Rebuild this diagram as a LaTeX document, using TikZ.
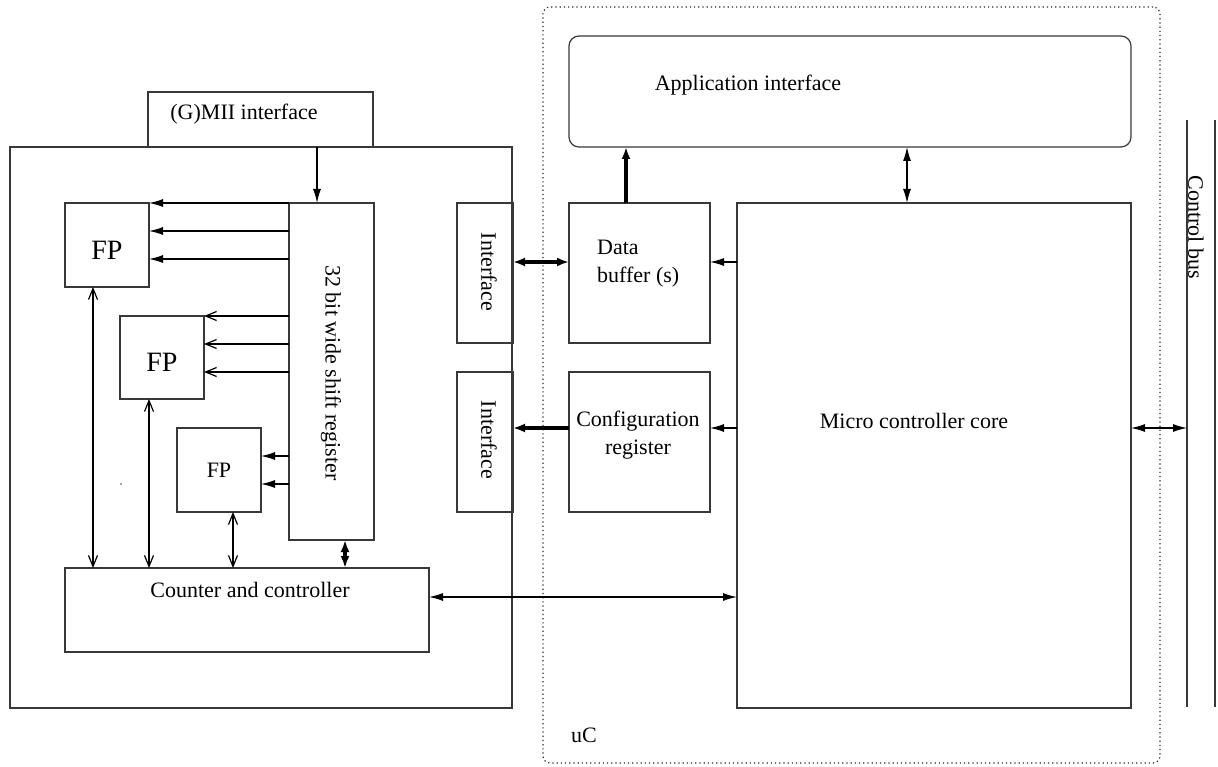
\documentclass[tikz,border=0pt]{standalone}
\usepackage{fontspec}
\setmainfont{Liberation Serif}
\usetikzlibrary{arrows.meta}
\newcommand\mytxt{\fontsize{22}{28}\selectfont}
\newcommand\bigtxt{\fontsize{28}{32}\selectfont}
\tikzset{
  box/.style={draw=black!78, line width=1.2pt, outer sep=0pt, inner sep=0pt, anchor=north west},
  lbl/.style={font=\mytxt, inner sep=0pt},
  conn/.style={draw=black, line width=1.2pt},
  thk/.style={draw=black, line width=3.2pt},
  fh/.style={-{Latex[length=14pt,width=8pt]}},
  fhh/.style={{Latex[length=14pt,width=8pt]}-{Latex[length=14pt,width=8pt]}},
  oh/.style={-{Straight Barb[length=11pt,width=9pt]}},
  ohh/.style={{Straight Barb[length=11pt,width=9pt]}-{Straight Barb[length=11pt,width=9pt]}},
  thh/.style={{Latex[length=12pt,width=9pt]}-{Latex[length=12pt,width=9pt]}},
  th/.style={-{Latex[length=12pt,width=9pt]}},
}
\begin{document}
\begin{tikzpicture}[x=1pt,y=-1pt]
\useasboundingbox (0,0) rectangle (1218,767);
% uC dotted frame
\node[box, draw=black!85, line width=1.2pt, dash pattern=on 1.2pt off 3pt, rounded corners=7pt, minimum width=617pt, minimum height=756pt] (uc) at (543,7) {};
\node[lbl, anchor=west] (uclbl) at (571,735) {uC};
% left block
\node[box, minimum width=225pt, minimum height=55pt] (gmii) at (148,92) {};
\node[lbl] (gmiit) at (244,114) {(G)MII interface};
\node[box, minimum width=502pt, minimum height=561pt] (main) at (10,147) {};
\node[box, minimum width=85pt, minimum height=337pt] (sr) at (289,203) {};
\node[lbl, rotate=-90] (srt) at (331,373) {32 bit wide shift register};
\node[box, minimum width=84pt, minimum height=84pt] (fp1) at (65,203) {};
\node[font=\bigtxt, inner sep=0pt] (fp1t) at (107,250) {FP};
\node[box, minimum width=84pt, minimum height=83pt] (fp2) at (120,316) {};
\node[font=\bigtxt, inner sep=0pt] (fp2t) at (162,362) {FP};
\node[box, minimum width=84pt, minimum height=84pt] (fp3) at (177,428) {};
\node[lbl] (fp3t) at (219,470) {FP};
\node[box, minimum width=364pt, minimum height=84pt] (cnt) at (65,568) {};
\node[lbl] (cntt) at (250,590) {Counter and controller};
\fill[black!70] (121,484) circle (0.9pt);
% interfaces
\node[box, minimum width=56pt, minimum height=140pt] (if1) at (457,203) {};
\node[lbl, rotate=-90] (if1t) at (489,272) {Interface};
\node[box, minimum width=56pt, minimum height=140pt] (if2) at (457,372) {};
\node[lbl, rotate=-90] (if2t) at (489,440) {Interface};
% uC contents
\node[box, rounded corners=10pt, minimum width=562pt, minimum height=111pt] (app) at (569,36) {};
\node[lbl] (appt) at (748,85) {Application interface};
\node[box, minimum width=141pt, minimum height=140pt] (db) at (569,203) {};
\node[lbl, anchor=west, align=left] (dbt) at (597,264) {Data\\buffer (s)};
\node[box, minimum width=141pt, minimum height=140pt] (cfg) at (569,372) {};
\node[lbl, align=center] (cfgt) at (638,435) {Configuration\\register};
\node[box, minimum width=394pt, minimum height=505pt] (core) at (737,203) {};
\node[lbl] (coret) at (914,421) {Micro controller core};
% control bus
\coordinate (b1t) at (1187,120); \coordinate (b1b) at (1187,707);
\coordinate (b2t) at (1215,120); \coordinate (b2b) at (1215,707);
\draw[draw=black!78, line width=1.2pt] (b1t) -- (b1b);
\draw[draw=black!78, line width=1.2pt] (b2t) -- (b2b);
\node[lbl, rotate=-90] (bust) at (1196,227) {Control bus};
% connectors left
\draw[conn, fh] (gmii.south -| 317,0) -- (sr.north -| 317,0);
\foreach \yy in {203,231,259} \draw[conn, fh] (sr.west |- 0,\yy) -- (fp1.east |- 0,\yy);
\foreach \yy in {316,344,372} \draw[conn, oh] (sr.west |- 0,\yy) -- (fp2.east |- 0,\yy);
\foreach \yy in {456,484} \draw[conn, fh] (sr.west |- 0,\yy) -- (fp3.east |- 0,\yy);
\draw[conn, ohh] (fp1.south -| 93,0) -- (cnt.north -| 93,0);
\draw[conn, ohh] (fp2.south -| 149,0) -- (cnt.north -| 149,0);
\draw[conn, ohh] (fp3.south -| 233,0) -- (cnt.north -| 233,0);
\draw[thk, thh] (sr.south -| 345,0) -- (cnt.north -| 345,0);
% connectors right
\draw[thk, th] (db.north -| 626,0) -- (app.south -| 626,0);
\draw[conn, fhh] (app.south -| 907,0) -- (core.north -| 907,0);
\draw[thk, thh] (if1.east |- 0,262) -- (db.west |- 0,262);
\draw[thk, th] (cfg.west |- 0,428) -- (if2.east |- 0,428);
\draw[conn, fh] (core.west |- 0,262) -- (db.east |- 0,262);
\draw[conn, fh] (core.west |- 0,428) -- (cfg.east |- 0,428);
\draw[conn, fhh] (cnt.east |- 0,597) -- (core.west |- 0,597);
\draw[conn, fhh] (core.east |- 0,428) -- (b1t |- 0,428);
\end{tikzpicture}
\end{document}
